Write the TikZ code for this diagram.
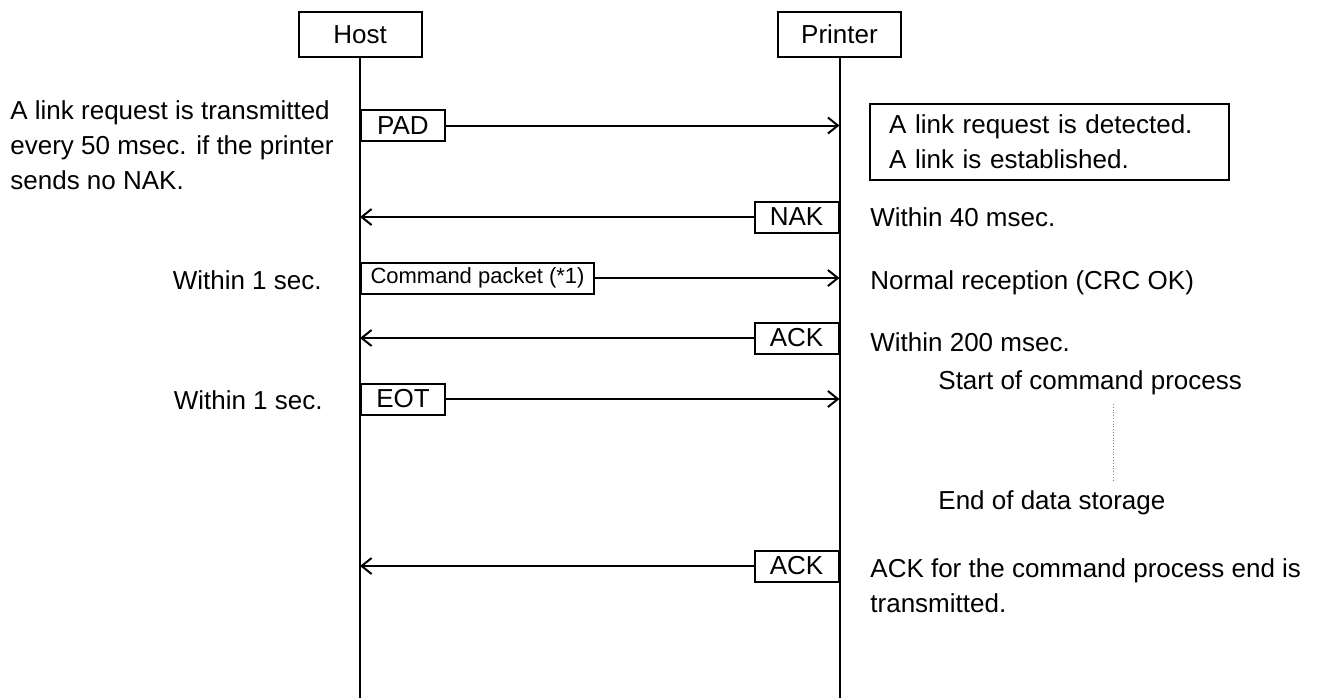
\documentclass[tikz,border=0pt]{standalone}
\usepackage{fontspec}
\setmainfont{Liberation Sans}
\usetikzlibrary{arrows.meta}

\begin{document}
\begin{tikzpicture}[x=0.5pt,y=-0.5pt]
\tikzstyle{every node}+=[inner sep=0pt,font=\fontsize{13}{17.5}\selectfont]
\tikzstyle{party}=[draw=black,line width=1pt,minimum width=61.5pt,minimum height=22.5pt]
\tikzstyle{msgbox}=[draw=black,line width=1pt,minimum width=42pt,minimum height=15.5pt]
\tikzstyle{msg}=[black,line width=1pt,-{Straight Barb[length=5pt,width=8pt]}]
\tikzstyle{life}=[black,line width=1pt]
\useasboundingbox (0,0) rectangle (1329,698);
% lifelines
\node [party] (host) at (360,34.5) {Host};
\node [party] (printer) at (839.5,34.5) {Printer};
\coordinate (hostend) at (360,698);
\coordinate (printerend) at (839.5,698);
\draw [life] (host) -- (hostend);
\draw [life] (printer) -- (printerend);
% messages
\node [msgbox,anchor=west] (pad) at (360,125.5) {PAD};
\draw [msg] (pad) -- (pad -| printer);
\node [msgbox,anchor=east] (nak) at (839.5,217) {NAK};
\draw [msg] (nak) -- (nak -| host);
\node [msgbox,anchor=west,minimum width=116.5pt,font=\fontsize{11}{12}\selectfont] (cmd) at (360,278) {Command packet (*1)};
\draw [msg] (cmd) -- (cmd -| printer);
\node [msgbox,anchor=east] (ack) at (839.5,338) {ACK};
\draw [msg] (ack) -- (ack -| host);
\node [msgbox,anchor=west] (eot) at (360,399) {EOT};
\draw [msg] (eot) -- (eot -| printer);
\node [msgbox,anchor=east] (ackend) at (839.5,566) {ACK};
\draw [msg] (ackend) -- (ackend -| host);
% host side notes
\node [anchor=west,align=left] (linkreq) at (10,145) {A link request is transmitted\\every 50 msec. if the printer\\sends no NAK.};
\node [anchor=east] (cmdtime) at (322,280) {Within 1 sec.};
\node [anchor=east] (eottime) at (323,400) {Within 1 sec.};
% printer side notes
\node [draw=black,line width=1pt,anchor=north west,text width=160.5pt,inner xsep=9.5pt,minimum height=38pt,align=left] (linkok) at (869,103) {A link request is detected.\\A link is established.};
\node [anchor=west] (naktime) at (870,217) {Within 40 msec.};
\node [anchor=west] (crcok) at (870,283) {Normal reception (CRC OK)};
\node [anchor=west] (acktime) at (870,342) {Within 200 msec.};
\node [anchor=west] (procstart) at (938,383) {Start of command process};
\node [anchor=west] (storeend) at (938,503) {End of data storage};
\coordinate (dottop) at (1113,404);
\coordinate (dotbot) at (1113,482);
\draw [gray,line width=0.4pt,densely dotted] (dottop) -- (dotbot);
\node [anchor=west,align=left] (acknote) at (870,586) {ACK for the command process end is\\transmitted.};
\end{tikzpicture}
\end{document}
